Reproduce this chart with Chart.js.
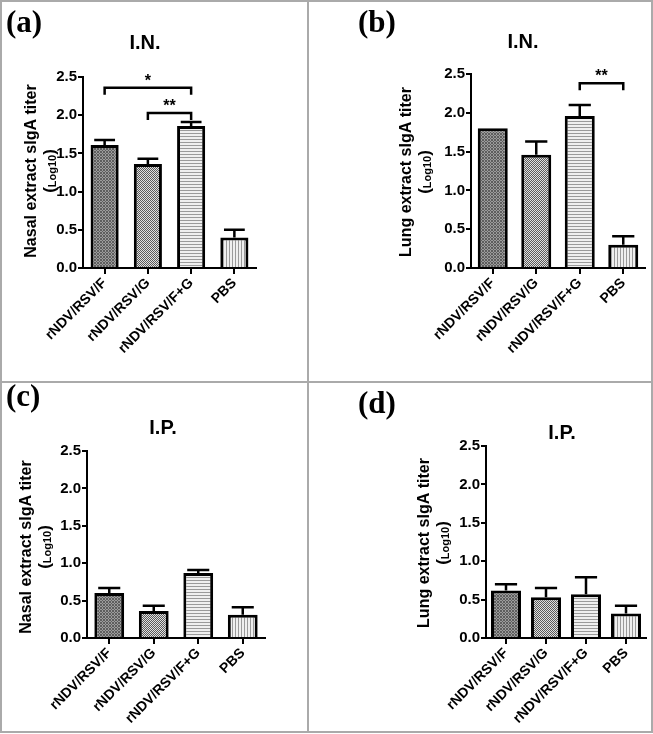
<!DOCTYPE html>
<html>
<head>
<meta charset="utf-8">
<script src="https://cdn.jsdelivr.net/npm/chart.js@4"></script>
<style>
  body { margin: 0; background: #fff; }
  #page { position: relative; width: 653px; height: 734px; overflow: hidden; }
  .line { position: absolute; background: #aaa; }
  canvas { position: absolute; }
</style>
</head>
<body>
<div id="page">
  <div class="line" style="left:0;top:0;width:653px;height:2px"></div>
  <div class="line" style="left:0;top:731px;width:653px;height:2px"></div>
  <div class="line" style="left:0;top:0;width:2px;height:733px"></div>
  <div class="line" style="left:651px;top:0;width:2px;height:733px"></div>
  <div class="line" style="left:307px;top:0;width:2px;height:733px"></div>
  <div class="line" style="left:0;top:381px;width:653px;height:2px"></div>
  <canvas id="chartA"></canvas>
  <canvas id="chartB"></canvas>
  <canvas id="chartC"></canvas>
  <canvas id="chartD"></canvas>
</div>
<script>
// grupos y valores (log10)
const categorias = ["rNDV/RSV/F", "rNDV/RSV/G", "rNDV/RSV/F+G", "PBS"];
const yTicks = [0, 0.5, 1.0, 1.5, 2.0, 2.5];

const nasalIN = [1.61, 1.36, 1.86, 0.40];
const nasalINErr = [0.065, 0.07, 0.05, 0.10];
const lungIN = [1.80, 1.46, 1.96, 0.30];
const lungINErr = [0, 0.17, 0.14, 0.11];
const nasalIP = [0.60, 0.36, 0.87, 0.31];
const nasalIPErr = [0.07, 0.07, 0.04, 0.10];
const lungIP = [0.62, 0.53, 0.57, 0.32];
const lungIPErr = [0.08, 0.12, 0.22, 0.10];

// corchetes de significancia
const nasalINSig = [
  { desde: 0, hasta: 2, nivel: 2.36, texto: "*" },
  { desde: 1, hasta: 2, nivel: 2.03, texto: "**" },
];
const lungINSig = [{ desde: 2, hasta: 3, nivel: 2.38, texto: "**" }];

const FONT = "'Liberation Sans', Arial, sans-serif";

function patron(tipo) {
  const c = document.createElement("canvas");
  const g = c.getContext("2d");
  if (tipo === 0) {
    c.width = 3; c.height = 3;
    g.fillStyle = "#9c9c9c"; g.fillRect(0, 0, 3, 3);
    g.fillStyle = "#5e5e5e";
    g.fillRect(0, 0, 1, 1); g.fillRect(1, 1, 1, 1); g.fillRect(2, 2, 1, 1);
    g.fillRect(2, 0, 1, 1); g.fillRect(0, 2, 1, 1);
  } else if (tipo === 1) {
    c.width = 2; c.height = 2;
    g.fillStyle = "#e0e0e0"; g.fillRect(0, 0, 2, 2);
    g.fillStyle = "#5a5a5a";
    g.fillRect(0, 0, 1, 1); g.fillRect(1, 1, 1, 1);
  } else if (tipo === 2) {
    c.width = 3; c.height = 3;
    g.fillStyle = "#efefef"; g.fillRect(0, 0, 3, 3);
    g.fillStyle = "#9a9a9a"; g.fillRect(0, 2, 3, 1);
  } else {
    c.width = 3; c.height = 3;
    g.fillStyle = "#efefef"; g.fillRect(0, 0, 3, 3);
    g.fillStyle = "#9a9a9a"; g.fillRect(2, 0, 1, 3);
  }
  return g.createPattern(c, "repeat");
}

const extras = {
  id: "extras",
  afterDatasetsDraw(chart, args, opts) {
    const ctx = chart.ctx;
    const meta = chart.getDatasetMeta(0);
    const ys = chart.scales.y;
    const datos = chart.data.datasets[0].data;
    ctx.save();
    ctx.strokeStyle = "#000";
    ctx.lineWidth = 2.5;
    meta.data.forEach((bar, i) => {
      const e = opts.errores[i];
      if (!e) return;
      const yTop = ys.getPixelForValue(datos[i] + e);
      const half = bar.width * 0.37;
      ctx.beginPath();
      ctx.moveTo(bar.x, bar.y);
      ctx.lineTo(bar.x, yTop);
      ctx.moveTo(bar.x - half, yTop);
      ctx.lineTo(bar.x + half, yTop);
      ctx.stroke();
    });
    (opts.sig || []).forEach((s) => {
      const x1 = meta.data[s.desde].x;
      const x2 = meta.data[s.hasta].x;
      const y = ys.getPixelForValue(s.nivel);
      ctx.beginPath();
      ctx.moveTo(x1, y + 7);
      ctx.lineTo(x1, y);
      ctx.lineTo(x2, y);
      ctx.lineTo(x2, y + 7);
      ctx.stroke();
      ctx.fillStyle = "#000";
      ctx.font = "bold 16px " + FONT;
      ctx.textAlign = "center";
      ctx.textBaseline = "alphabetic";
      ctx.fillText(s.texto, (x1 + x2) / 2, y - 2);
    });
    ctx.restore();
  },
  afterDraw(chart, args, opts) {
    const ctx = chart.ctx;
    ctx.save();
    ctx.fillStyle = "#000";
    // letra del panel
    ctx.font = "bold 31px 'Liberation Serif', 'Times New Roman', serif";
    ctx.textAlign = "left";
    ctx.textBaseline = "middle";
    ctx.fillText(opts.letra, opts.letraPos[0], opts.letraPos[1]);
    // titulo
    ctx.font = "bold 20px " + FONT;
    ctx.textAlign = "center";
    ctx.fillText(opts.titulo, opts.tituloPos[0], opts.tituloPos[1]);
    // titulo eje y
    ctx.translate(opts.yLab[0], opts.yLab[2]);
    ctx.rotate(-Math.PI / 2);
    ctx.font = "bold 16px " + FONT;
    ctx.textAlign = "center";
    ctx.textBaseline = "middle";
    ctx.fillText(opts.yTexto, 0, 0);
    const dx = opts.yLab[1] - opts.yLab[0];
    const big = "bold 17px " + FONT;
    const small = "bold 11px " + FONT;
    ctx.font = big;
    const wp = ctx.measureText("(").width;
    ctx.font = small;
    const wl = ctx.measureText("Log10").width;
    let x = -(2 * wp + wl) / 2;
    ctx.textAlign = "left";
    ctx.textBaseline = "alphabetic";
    const base = dx + 5;
    ctx.font = big;
    ctx.fillText("(", x, base);
    x += wp;
    ctx.font = small;
    ctx.fillText("Log10", x, base + 1);
    x += wl;
    ctx.font = big;
    ctx.fillText(")", x, base);
    ctx.restore();
  },
};

function crearPanel(id, p) {
  const [cx, cy, w, h] = p.celda;
  const [l, t, r, b] = p.area;
  const canvas = document.getElementById(id);
  canvas.width = w;
  canvas.height = h;
  canvas.style.left = cx + "px";
  canvas.style.top = cy + "px";
  const loc = (pt) => [pt[0] - cx, pt[1] - cy];
  return new Chart(canvas.getContext("2d"), {
    type: "bar",
    data: {
      labels: categorias,
      datasets: [
        {
          data: p.valores,
          backgroundColor: [patron(0), patron(1), patron(2), patron(3)],
          borderColor: "#000",
          borderWidth: 3,
          borderSkipped: "bottom",
          barPercentage: p.ancho,
          categoryPercentage: 1,
        },
      ],
    },
    options: {
      responsive: false,
      animation: false,
      layout: { padding: { left: 0, top: t - cy, right: cx + w - r, bottom: 0 } },
      plugins: {
        legend: { display: false },
        tooltip: { enabled: false },
        extras: {
          errores: p.errores,
          sig: p.sig,
          letra: p.letra,
          letraPos: loc(p.letraPos),
          titulo: p.titulo,
          tituloPos: loc(p.tituloPos),
          yTexto: p.yTexto,
          yLab: [p.yLab[0] - cx, p.yLab[1] - cx, p.yLab[2] - cy],
        },
      },
      scales: {
        x: {
          offset: true,
          grid: {
            offset: false,
            drawOnChartArea: false,
            drawTicks: true,
            tickLength: 6,
            color: "#000",
            lineWidth: 2,
          },
          border: { display: true, color: "#000", width: 2 },
          ticks: {
            color: "#000",
            font: { family: FONT, size: 14, weight: "bold" },
            minRotation: 45,
            maxRotation: 45,
            padding: 1,
          },
          afterFit: (s) => { s.height = cy + h - b; },
        },
        y: {
          min: 0,
          max: 2.5,
          afterBuildTicks: (s) => { s.ticks = yTicks.map((v) => ({ value: v })); },
          grid: {
            drawOnChartArea: false,
            drawTicks: true,
            tickLength: 5,
            color: "#000",
            lineWidth: 2,
          },
          border: { display: true, color: "#000", width: 2 },
          ticks: {
            color: "#000",
            padding: 1,
            font: { family: FONT, size: 15, weight: "bold" },
            callback: (v) => Number(v).toFixed(1),
          },
          afterFit: (s) => { s.width = l - cx; },
        },
      },
    },
    plugins: [extras],
  });
}

crearPanel("chartA", {
  celda: [2, 2, 305, 379], area: [83, 77, 256, 268],
  valores: nasalIN, errores: nasalINErr, sig: nasalINSig, ancho: 0.65,
  letra: "(a)", letraPos: [6, 24], titulo: "I.N.", tituloPos: [145, 43],
  yTexto: "Nasal extract sIgA titer", yLab: [32, 50, 171],
});
crearPanel("chartB", {
  celda: [309, 2, 342, 379], area: [471, 74, 645, 268],
  valores: lungIN, errores: lungINErr, sig: lungINSig, ancho: 0.69,
  letra: "(b)", letraPos: [358, 24], titulo: "I.N.", tituloPos: [523, 42],
  yTexto: "Lung extract sIgA titer", yLab: [407, 425, 172],
});
crearPanel("chartC", {
  celda: [2, 383, 305, 348], area: [87, 451, 265, 638],
  valores: nasalIP, errores: nasalIPErr, sig: [], ancho: 0.67,
  letra: "(c)", letraPos: [6, 398], titulo: "I.P.", tituloPos: [163, 428],
  yTexto: "Nasal extract sIgA titer", yLab: [27, 45, 547],
});
crearPanel("chartD", {
  celda: [309, 383, 342, 348], area: [486, 446, 646, 638],
  valores: lungIP, errores: lungIPErr, sig: [], ancho: 0.75,
  letra: "(d)", letraPos: [358, 405], titulo: "I.P.", tituloPos: [562, 433],
  yTexto: "Lung extract sIgA titer", yLab: [425, 443, 543],
});
</script>
</body>
</html>
